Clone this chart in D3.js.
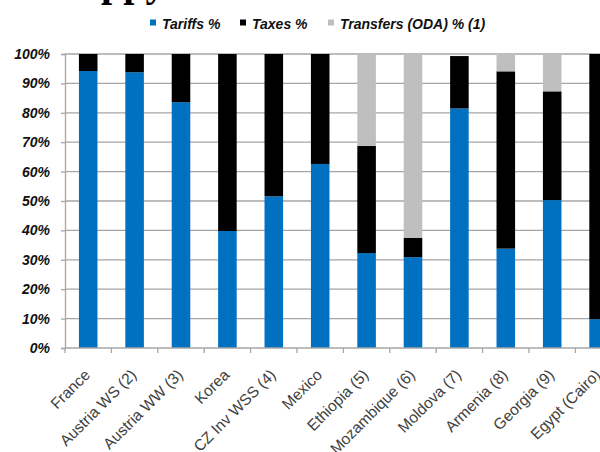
<!DOCTYPE html>
<html>
<head>
<meta charset="utf-8">
<script src="https://cdn.jsdelivr.net/npm/d3@7"></script>
<style>
  html, body { margin: 0; padding: 0; background: #fff; }
  svg { display: block; }
</style>
</head>
<body>
<script>
// Funding mix per utility / country (shares of total, %)
const categories = ["France", "Austria WS (2)", "Austria WW (3)", "Korea", "CZ Inv WSS (4)", "Mexico",
  "Ethiopia (5)", "Mozambique (6)", "Moldova (7)", "Armenia (8)", "Georgia (9)", "Egypt (Cairo)"];
const tariffs   = [94.2, 93.8, 83.6, 39.8, 51.6, 62.6, 32.3, 30.9, 81.5, 33.8, 50.3, 9.8];
const taxes     = [5.8, 6.2, 16.4, 60.2, 48.4, 37.4, 36.4, 6.6, 17.8, 60.3, 37.0, 90.2];
const transfers = [0, 0, 0, 0, 0, 0, 31.3, 62.5, 0, 5.9, 12.7, 0];
const seriesNames = ["Tariffs %", "Taxes %", "Transfers (ODA) % (1)"];
const yTicks = [0, 10, 20, 30, 40, 50, 60, 70, 80, 90, 100];

const W = 600, H = 452;
const margin = { left: 65, top: 54, bottom: 104 };
const plotW = 46.4 * categories.length;   // plot runs past the right edge
const plotH = H - margin.top - margin.bottom;
const colors = ["#0070C0", "#000000", "#BFBFBF"];
const font = "'Liberation Sans', Arial, sans-serif";

const rows = categories.map((c, i) => ({ cat: c, t0: tariffs[i], t1: taxes[i], t2: transfers[i] }));
const stack = d3.stack().keys(["t0", "t1", "t2"])(rows);

const svg = d3.select("body").append("svg").attr("width", W).attr("height", H);

// heading above the chart (only its lower edge is inside the frame)
svg.append("text")
  .attr("x", 101).attr("y", -4)
  .attr("font-family", "'Liberation Serif', 'Times New Roman', serif")
  .attr("font-weight", "bold").attr("font-size", 40).attr("fill", "#000")
  .text("ppy");

const x = d3.scaleBand().domain(categories).range([0, plotW]).paddingInner(0.6).paddingOuter(0.3);
const y = d3.scaleLinear().domain([0, 100]).range([plotH, 0]);

const g = svg.append("g").attr("transform", `translate(${margin.left},${margin.top})`);

// horizontal gridlines
g.append("g").selectAll("line").data(yTicks.filter(d => d > 0)).join("line")
  .attr("x1", 0).attr("x2", plotW)
  .attr("y1", d => y(d)).attr("y2", d => y(d))
  .attr("stroke", "#A6A6A6").attr("stroke-width", 1.3);

// stacked bars
g.append("g").selectAll("g").data(stack).join("g")
  .attr("fill", (d, i) => colors[i])
  .selectAll("rect").data(d => d).join("rect")
  .attr("x", d => x(d.data.cat))
  .attr("width", x.bandwidth())
  .attr("y", d => y(d[1]))
  .attr("height", d => Math.max(0, y(d[0]) - y(d[1])));

// y axis
const yAxis = g.append("g").call(d3.axisLeft(y).tickValues(yTicks).tickFormat(d => d + "%").tickSize(4).tickPadding(11));
yAxis.select(".domain").attr("stroke", "#A6A6A6").attr("stroke-width", 1.3);
yAxis.selectAll(".tick line").attr("stroke", "#A6A6A6").attr("stroke-width", 1.3);
yAxis.selectAll("text")
  .attr("font-family", font).attr("font-size", 14)
  .attr("font-weight", "bold").attr("font-style", "italic").attr("fill", "#111");

// x axis with tick marks at category boundaries
const xg = g.append("g").attr("transform", `translate(0,${plotH})`);
xg.append("line").attr("x1", 0).attr("x2", plotW).attr("stroke", "#A6A6A6").attr("stroke-width", 1.3);
const step = x.step();
xg.selectAll("line.tk").data(d3.range(categories.length + 1)).join("line").attr("class", "tk")
  .attr("x1", i => i * step).attr("x2", i => i * step)
  .attr("y1", 0).attr("y2", 5)
  .attr("stroke", "#A6A6A6").attr("stroke-width", 1.3);
xg.selectAll("text").data(categories).join("text")
  .attr("transform", d => `translate(${x(d) + x.bandwidth() / 2 - 1},${24}) rotate(-45)`)
  .attr("text-anchor", "end")
  .attr("dy", "0.35em")
  .attr("font-family", font).attr("font-size", 15.5).attr("fill", "#404040")
  .text(d => d);

// legend
const legendX = [150, 240, 328];
const lg = svg.append("g");
seriesNames.forEach((name, i) => {
  lg.append("rect").attr("x", legendX[i]).attr("y", 19.5).attr("width", 6).attr("height", 6).attr("fill", colors[i]);
  lg.append("text").attr("x", legendX[i] + 12).attr("y", 28.5)
    .attr("font-family", font).attr("font-size", 14)
    .attr("font-weight", "bold").attr("font-style", "italic").attr("fill", "#111")
    .text(name);
});
</script>
</body>
</html>
